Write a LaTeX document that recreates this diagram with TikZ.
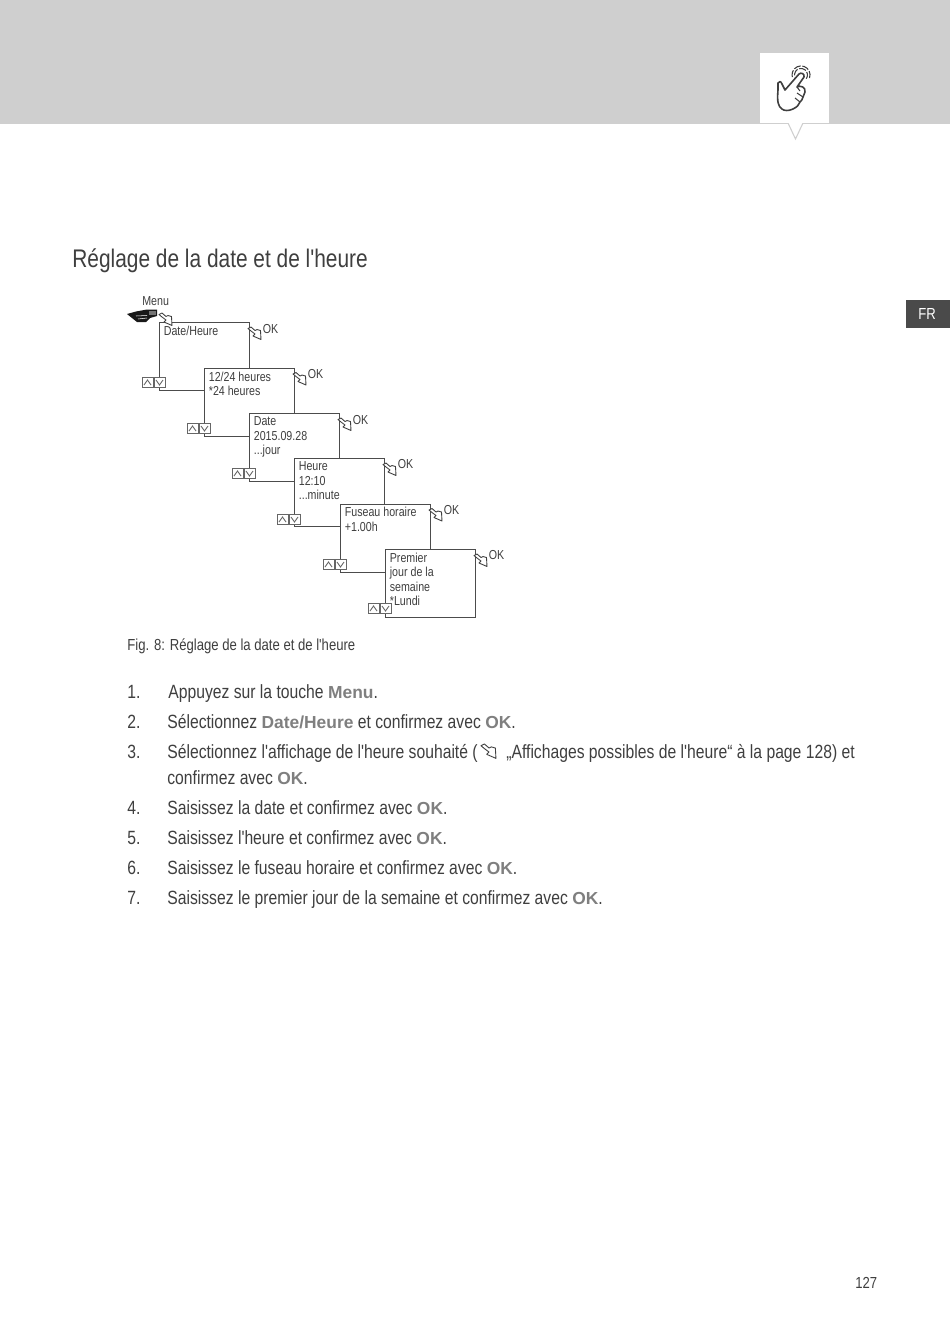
\documentclass[tikz,border=0pt]{standalone}
\usepackage{xcolor}
\usepackage{fontspec}
\newfontfamily\bodyfont{Liberation Sans}[FakeStretch=0.82]
\newfontfamily\plainfont{Liberation Sans}
\definecolor{bandgray}{HTML}{CFCFCF}
\definecolor{inkgray}{HTML}{3F3F3F}
\definecolor{keygray}{HTML}{7F7F7F}
\definecolor{tabgray}{HTML}{4A4A4A}
\newcommand{\keyword}[1]{{\plainfont\fontsize{9.9pt}{11pt}\selectfont\bfseries\color{keygray}#1}}

\begin{document}
\begin{tikzpicture}[x=0.02cm,y=-0.02cm]
    % styles
    \tikzset{
      titletext/.style  = {anchor=base west, inner sep=0pt, text=inkgray, font=\bodyfont\fontsize{14.5pt}{17pt}\selectfont},
      steptext/.style   = {anchor=base west, inner sep=0pt, text=inkgray, font=\bodyfont\fontsize{10.9pt}{13pt}\selectfont},
      figtext/.style    = {anchor=base west, inner sep=0pt, text=inkgray, font=\bodyfont\fontsize{9.1pt}{11pt}\selectfont},
      menutext/.style   = {anchor=north west, inner sep=0pt, align=left, text=inkgray, font=\bodyfont\fontsize{7.4pt}{8.25pt}\selectfont},
      menubox/.style    = {anchor=north west, draw=black!70, fill=white, line width=0.7pt, inner sep=0pt, minimum width=1.8cm, minimum height=1.36cm},
      keybox/.style     = {draw=black!60, fill=white, line width=0.5pt},
      okicon/.pic = {
        \draw[draw=inkgray, fill=white, line width=0.5pt, line join=round]
        (0,1.5) -- (3,0) -- (7,3.5) -- (9,2.5) -- (12.5,3.5) -- (13,12.5) -- (5,9) -- (7,7) -- (3,4) -- cycle;
      },
      keypair/.pic = {
        \draw[keybox] (-17,-12.5) rectangle (-6,-2.5);
        \draw[keybox] (-5,-12.5) rectangle (6,-2.5);
        \draw[draw=black!60, line width=0.5pt] (-15,-5) -- (-11.5,-10) -- (-8,-5);
        \draw[draw=black!60, line width=0.5pt] (-3,-10) -- (0.5,-5) -- (4,-10);
      }
    }
    % Page:
    \useasboundingbox (0,0) rectangle (950,1343);
    \fill[white] (0,0) rectangle (950,1343);
    \fill[bandgray] (0,0) rectangle (950,124);

    % Tab with the touch sign:
    \draw[draw=bandgray, line width=0.6pt, fill=white] (788,123) -- (795.5,139) -- (803,123);
    \fill[white] (760,53) rectangle (829,123);
    \draw[draw=inkgray, line width=0.9pt, line join=round, line cap=round]
    (799,74) .. controls (801,72) and (805,74) .. (804,77)
    -- (797,87) .. controls (800,85) and (806,87) .. (805,92)
    -- (803,97) .. controls (803,99) and (801,101) .. (800,102)
    .. controls (799,105) and (797,107) .. (793,109)
    .. controls (789,111) and (784,111) .. (782,109)
    .. controls (778,106) and (777,102) .. (778,90)
    -- (778,83) .. controls (779,81) and (781,81) .. (782,84)
    -- (785,90) -- cycle;
    \draw[draw=inkgray, line width=0.6pt] (797,87) -- (800,91);
    \draw[draw=inkgray, line width=0.6pt] (803,97) -- (797,93);
    \draw[draw=inkgray, line width=0.6pt] (800,102) -- (795,98);
    \draw[draw=inkgray, line width=0.6pt, dash pattern=on 4pt off 1pt] (806.3,78.7) arc (35:-200:6.5);
    \draw[draw=inkgray, line width=0.6pt, dash pattern=on 4pt off 1pt] (809.5,78) arc (20:-200:9);

    % Language tab:
    \fill[tabgray] (906,300) rectangle (950,328);
    \node[anchor=base, inner sep=0pt, text=white, font=\bodyfont\fontsize{9.1pt}{11pt}\selectfont] (langtab) at (927,319) {FR};

    \node[titletext] (title) at (72,267) {Réglage de la date et de l'heure};

    % Date/Heure:
    \node[menubox] (dateheure) at (159,322) {};
    \node[menutext] (dateheuretext) at (163.5,326) {Date/Heure};
    \pic at (248,327) {okicon};
    \node[menutext] (okdateheure) at (262.5,324) {OK};
    \pic at (159,390) {keypair};

    % Hand at the menu key:
    \node[menutext] (menulabel) at (142,296.5) {Menu};
    \fill[inkgray!40!black] (127,314) -- (136,311.5) -- (147,309.5) -- (157,309.5) -- (157,316) -- (150,318)
    -- (146,322) -- (137,322) -- (132,318) -- cycle;
    \fill[black!55] (149,311) rectangle (155.5,315);
    \draw[draw=white, line width=0.3pt] (136,316) -- (147,315.5);
    \draw[draw=white, line width=0.3pt] (138,319) -- (147,318);
    \pic at (159,313) {okicon};

    % 12/24 heures:
    \node[menubox] (format) at (204,368) {};
    \node[menutext] (formattext) at (208.5,371.5) {12/24 heures\\*24 heures};
    \pic at (293,372.5) {okicon};
    \node[menutext] (okformat) at (307.5,369.5) {OK};
    \pic at (204,436) {keypair};

    % Date:
    \node[menubox] (date) at (249,413) {};
    \node[menutext] (datetext) at (253.5,416.5) {Date\\2015.09.28\\...jour};
    \pic at (338,418) {okicon};
    \node[menutext] (okdate) at (352.5,415) {OK};
    \pic at (249,481) {keypair};

    % Heure:
    \node[menubox] (heure) at (294,458) {};
    \node[menutext] (heuretext) at (298.5,461.5) {Heure\\12:10\\...minute};
    \pic at (383,463) {okicon};
    \node[menutext] (okheure) at (397.5,459.5) {OK};
    \pic at (294,527) {keypair};

    % Fuseau horaire:
    \node[menubox] (fuseau) at (340,504) {};
    \node[menutext] (fuseautext) at (344.5,507) {Fuseau horaire\\+1.00h};
    \pic at (429,508.5) {okicon};
    \node[menutext] (okfuseau) at (443.5,505) {OK};
    \pic at (340,572) {keypair};

    % Premier jour:
    \node[menubox] (premier) at (385,549) {};
    \node[menutext] (premiertext) at (389.5,552.5) {Premier\\jour de la\\semaine\\*Lundi};
    \pic at (474,554) {okicon};
    \node[menutext] (okpremier) at (488.5,550.5) {OK};
    \pic at (385,616) {keypair};

    \node[figtext] (caption) at (127,650) {Fig. 8: Réglage de la date et de l'heure};

    % Steps:
    \node[steptext] (num1) at (127,698.5) {1.};
    \node[steptext] (step1) at (168,698.5) {Appuyez sur la touche \keyword{Menu}.};
    \node[steptext] (num2) at (127,728.5) {2.};
    \node[steptext] (step2) at (167,728.5) {Sélectionnez \keyword{Date/Heure} et confirmez avec \keyword{OK}.};
    \node[steptext] (num3) at (127,758.5) {3.};
    \node[steptext] (step3) at (167,758.5) {Sélectionnez l'affichage de l'heure souhaité (};
    \pic[scale=1.15] at (481,744) {okicon};
    \node[steptext] (step3ref) at (506,758.5) {„Affichages possibles de l'heure“ à la page 128) et};
    \node[steptext] (step3end) at (167,784.5) {confirmez avec \keyword{OK}.};
    \node[steptext] (num4) at (127,814.5) {4.};
    \node[steptext] (step4) at (167,814.5) {Saisissez la date et confirmez avec \keyword{OK}.};
    \node[steptext] (num5) at (127,844.5) {5.};
    \node[steptext] (step5) at (167,844.5) {Saisissez l'heure et confirmez avec \keyword{OK}.};
    \node[steptext] (num6) at (127,874.5) {6.};
    \node[steptext] (step6) at (167,874.5) {Saisissez le fuseau horaire et confirmez avec \keyword{OK}.};
    \node[steptext] (num7) at (127,904.5) {7.};
    \node[steptext] (step7) at (167,904.5) {Saisissez le premier jour de la semaine et confirmez avec \keyword{OK}.};

    \node[figtext] (pagenum) at (855,1288) {127};
  \end{tikzpicture}
\end{document}
